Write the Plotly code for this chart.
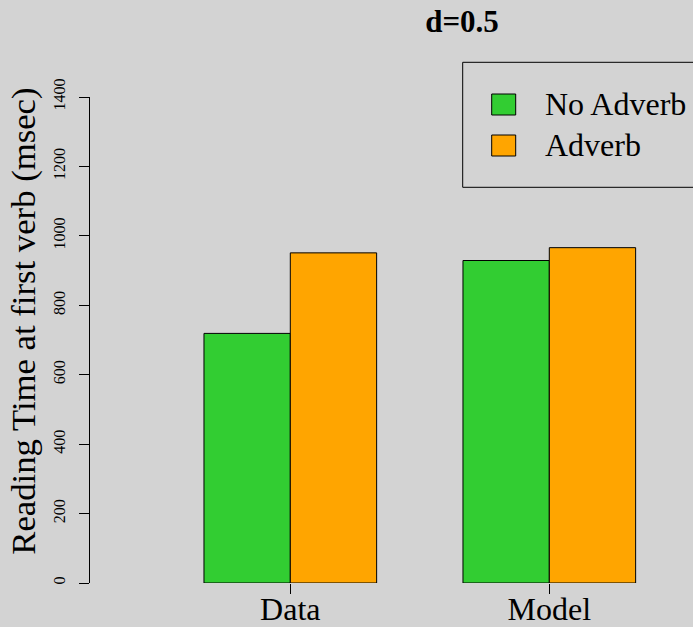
import plotly.graph_objects as go

categories = ["Data", "Model"]
series_names = ["No Adverb", "Adverb"]
no_adverb = [719, 929]
adverb = [951, 966]
colors = ["#32CD32", "#FFA500"]
y_ticks = [0, 200, 400, 600, 800, 1000, 1200, 1400]
title_text = "d=0.5"
y_label = "Reading Time at first verb (msec)"

W, H = 693, 627
L, R, T, B = 90, 0, 97, 44
pw, ph = W - L - R, H - T - B

def px_x(x):
    return (x - L) / pw

def px_y(y):
    return (H - B - y) / ph

FONT = "Liberation Serif"

fig = go.Figure()
for name, vals, col in zip(series_names, [no_adverb, adverb], colors):
    fig.add_trace(go.Bar(
        x=categories, y=vals, name=name,
        marker=dict(color=col, line=dict(color="black", width=1)),
        showlegend=False,
    ))

unit = (549.3 - 290.3)
fig.update_layout(
    width=W, height=H,
    margin=dict(l=L, r=R, t=T, b=B, pad=0, autoexpand=False),
    paper_bgcolor="#D3D3D3", plot_bgcolor="#D3D3D3",
    barmode="group", bargap=1/3, bargroupgap=0,
    font=dict(family=FONT, color="black"),
    xaxis=dict(
        range=[-(290.3 - L) / unit, 1 + (W - R - 549.3) / unit],
        automargin=False,
        showline=False, showgrid=False, zeroline=False,
        ticks="outside", ticklen=10, tickcolor="black", tickwidth=1,
        ticklabelstandoff=-12,
        tickfont=dict(size=32, family=FONT, color="black"),
    ),
    yaxis=dict(
        range=[0, 1400], tickvals=y_ticks, ticktext=[str(v) for v in y_ticks],
        automargin=False,
        showline=True, linecolor="black", linewidth=1,
        showgrid=False, zeroline=False,
        ticks="outside", ticklen=10, tickcolor="black", tickwidth=1,
        tickangle=-90, ticklabelstandoff=8,
        tickfont=dict(size=16, family=FONT, color="black"),
    ),
    title=dict(
        text="<b>" + title_text + "</b>",
        x=462 / W, xref="container", xanchor="center",
        y=1 - 10 / H, yref="container", yanchor="top",
        font=dict(size=31, family=FONT, color="black"),
    ),
)

# y axis label
fig.add_annotation(
    text=y_label, textangle=-90, showarrow=False,
    xref="paper", yref="paper", x=px_x(24), y=px_y(321.7),
    xanchor="center", yanchor="middle",
    font=dict(size=34.7, family=FONT, color="black"),
)

# legend (drawn manually to match box and swatch sizes)
fig.add_shape(type="rect", xref="paper", yref="paper",
              x0=px_x(462.7), x1=px_x(705), y0=px_y(187.3), y1=px_y(62.3),
              line=dict(color="black", width=1), fillcolor="rgba(0,0,0,0)")
swatch_tops = [94, 135]
for name, col, top in zip(series_names, colors, swatch_tops):
    fig.add_shape(type="rect", xref="paper", yref="paper",
                  x0=px_x(491.7), x1=px_x(515.7), y0=px_y(top + 21), y1=px_y(top),
                  line=dict(color="black", width=1), fillcolor=col)
    fig.add_annotation(text=name, showarrow=False, xref="paper", yref="paper",
                       x=px_x(543), y=px_y(top + 10.5), xanchor="left", yanchor="middle",
                       font=dict(size=32, family=FONT, color="black"))

fig.write_html("out.html")
